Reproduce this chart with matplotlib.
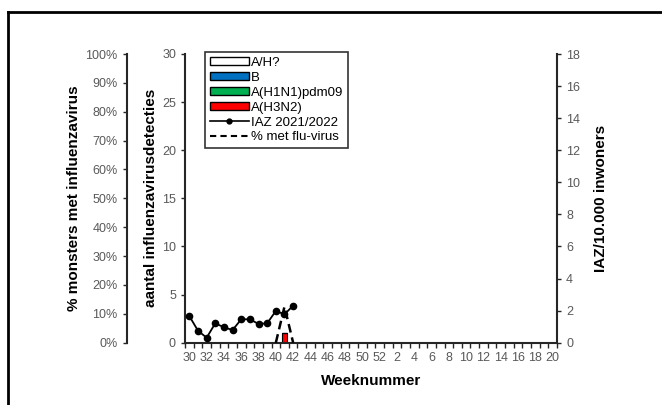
import numpy as np
import matplotlib.pyplot as plt
from matplotlib.patches import Patch
from matplotlib.lines import Line2D

plt.rcParams['font.family'] = ['Liberation Sans', 'DejaVu Sans']

# weeks 30..52 then 1..20
weeks = list(range(30, 53)) + list(range(1, 21))
n = len(weeks)

# virus detections per week (count)
a_h_unknown = [0] * n
b_virus = [0] * n
h1n1 = [0] * n
h3n2 = [0] * n
h3n2[weeks.index(41)] = 1

# IAZ per 10.000 inwoners, weeks 30-42
iaz_vals = [1.66, 0.75, 0.31, 1.21, 0.96, 0.79, 1.46, 1.46, 1.17, 1.21, 1.98, 1.77, 2.31]
# % samples with flu virus, weeks 40-42
pct_weeks = [40, 41, 42]
pct_vals = [0, 12.5, 0]

grey = '#595959'
x = np.arange(n)

fig = plt.figure(figsize=(6.62, 4.05), dpi=100)
ax = fig.add_axes([185 / 662, 1 - 342.7 / 405, 372 / 662, 288.7 / 405])

# stacked bars
bottom = np.zeros(n)
series = [(h3n2, '#FF0000'), (h1n1, '#00B050'), (b_virus, '#0070C0'), (a_h_unknown, 'white')]
for vals, col in series:
    vals = np.array(vals, dtype=float)
    ax.bar(x, vals, bottom=bottom, width=0.5, color=col, edgecolor='black', linewidth=0.8, zorder=2)
    bottom += vals

ax.set_ylim(0, 30)
ax.set_yticks(range(0, 31, 5))
ax.set_xlim(-0.5, n - 0.5)
ax.set_xticks(x[::2])
ax.set_xticklabels([str(w) for w in weeks[::2]])
ax.set_xticks(np.arange(-0.5, n, 1), minor=True)
ax.tick_params(axis='x', which='major', length=0, pad=7, labelsize=9, labelcolor=grey)
ax.tick_params(axis='x', which='minor', length=3.5, width=1, direction='out', color='#262626')
ax.tick_params(axis='y', length=3, width=1, labelsize=9, labelcolor=grey, color='#262626')
for s in ['top', 'right']:
    ax.spines[s].set_visible(False)
for s in ['left', 'bottom']:
    ax.spines[s].set_linewidth(1.5)
    ax.spines[s].set_color('#262626')
ax.set_ylabel('aantal influenzavirusdetecties', fontsize=11, fontweight='bold', labelpad=3)
ax.set_xlabel('Weeknummer', fontsize=11, fontweight='bold', labelpad=7)

# right axis: IAZ
ax2 = ax.twinx()
ax2.plot(x[:len(iaz_vals)], iaz_vals, color='black', lw=1.3, marker='o', ms=4.5, zorder=4)
ax2.set_ylim(0, 18)
ax2.set_yticks(range(0, 19, 2))
ax2.tick_params(axis='y', length=3, width=1, labelsize=9, labelcolor=grey, color='#262626')
for s in ['top', 'left', 'bottom']:
    ax2.spines[s].set_visible(False)
ax2.spines['right'].set_linewidth(1.5)
ax2.spines['right'].set_color('#262626')
ax2.set_ylabel('IAZ/10.000 inwoners', fontsize=11, fontweight='bold', labelpad=10)

# outer left axis: percentage
ax3 = ax.twinx()
ax3.yaxis.set_label_position('left')
ax3.yaxis.tick_left()
ax3.spines['left'].set_position(('axes', -(185 - 126.7) / 372))
for s in ['top', 'right', 'bottom']:
    ax3.spines[s].set_visible(False)
ax3.spines['left'].set_visible(True)
ax3.spines['left'].set_linewidth(1.5)
ax3.spines['left'].set_color('#262626')
ax3.plot([weeks.index(w) for w in pct_weeks], pct_vals, color='black', lw=1.8, ls=(0, (3.5, 2)), zorder=3)
ax3.set_ylim(0, 100)
ax3.set_yticks(range(0, 101, 10))
ax3.set_yticklabels([f'{v}%' for v in range(0, 101, 10)])
ax3.tick_params(axis='y', length=3, width=1, labelsize=9, labelcolor=grey, color='#262626')
ax3.set_ylabel('% monsters met influenzavirus', fontsize=11, fontweight='bold', labelpad=3)

# legend
handles = [
    Patch(facecolor='white', edgecolor='black', label='A/H?'),
    Patch(facecolor='#0070C0', edgecolor='black', label='B'),
    Patch(facecolor='#00B050', edgecolor='black', label='A(H1N1)pdm09'),
    Patch(facecolor='#FF0000', edgecolor='black', label='A(H3N2)'),
    Line2D([], [], color='black', lw=1.2, marker='o', ms=3.5, label='IAZ 2021/2022'),
    Line2D([], [], color='black', lw=1.5, ls=(0, (3, 2)), label='% met flu-virus'),
]
leg = fig.legend(handles=handles, loc='upper left', bbox_to_anchor=(205 / 662, 1 - 52.3 / 405),
                 bbox_transform=fig.transFigure, fontsize=9.5, frameon=True, fancybox=False,
                 edgecolor='black', handlelength=3.0, handleheight=0.55, labelspacing=0.22,
                 handletextpad=0.15, borderpad=0.35, borderaxespad=0)
leg.get_frame().set_linewidth(1.2)

# outer frame lines
fig.add_artist(Line2D([8 / 662, 1], [1 - 12 / 405, 1 - 12 / 405], color='black', lw=2, transform=fig.transFigure))
fig.add_artist(Line2D([8 / 662, 8 / 662], [0, 1 - 12 / 405], color='black', lw=2, transform=fig.transFigure))

fig.savefig('out.png', dpi=100)
